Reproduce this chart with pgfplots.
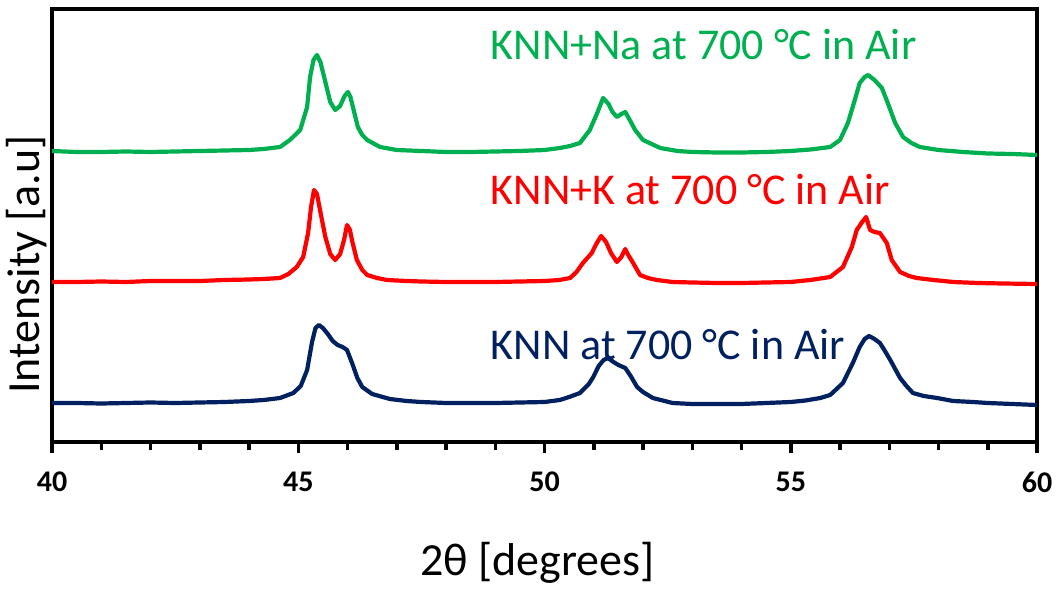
\documentclass[border=0pt]{standalone}
\usepackage{fontspec}
\setmainfont{Carlito}
\usepackage{pgfplots}
\pgfplotsset{compat=1.18}
\definecolor{xgreen}{RGB}{0,176,80}
\definecolor{xred}{RGB}{255,0,0}
\definecolor{xblue}{RGB}{0,32,96}
\begin{document}
\begin{tikzpicture}
\begin{axis}[name=ax, at={(0,0)}, anchor=south west, scale only axis,
    width=492.5pt, height=216.5pt,
    xmin=40, xmax=60, ymin=0, ymax=433,
    ytick=\empty, xtick={40,45,...,60}, xticklabels={40,45,50,55,60},
    minor x tick num=4, xtick pos=left, xtick align=outside,
    major tick length=5.5pt, minor tick length=4pt,
    every tick/.style={black, line width=1.75pt},
    axis line style={line width=2pt},
    xticklabel style={font=\bfseries\fontsize{15}{15}\selectfont, yshift=-6pt},
    xlabel={2θ [degrees]}, ylabel={Intensity [a.u]},
    every axis x label/.style={at={(axis description cs:0.493,-0.309)}, anchor=base, font=\fontsize{23}{23}\selectfont},
    every axis y label/.style={at={(axis description cs:-0.026,0.41)}, rotate=90, anchor=center, font=\fontsize{23}{23}\selectfont},
    clip=false]
\addplot[xblue, line width=2.1pt, line join=round] coordinates {
(40,39) (40.5,39) (41,38.5) (41.5,39) (42,39.5) (42.5,39) (43,39.5) (43.5,40) (44,41) (44.3,42)
(44.63,44) (44.9,49) (45.05,56) (45.18,72) (45.28,100) (45.35,114) (45.42,117) (45.5,114) (45.6,108)
(45.7,101) (45.8,97) (45.9,95) (45.99,92) (46.1,78) (46.2,64) (46.3,55) (46.5,48) (46.86,43) (47.2,41)
(47.5,40) (48,39) (48.5,39) (49,39) (49.5,39.5) (50,40) (50.31,42) (50.5,45) (50.72,49) (50.9,58)
(50.99,65) (51.1,76) (51.2,82) (51.29,84) (51.4,80) (51.5,77) (51.64,74) (51.75,66) (51.88,55) (52,50)
(52.2,44) (52.6,39) (53,38) (53.5,38) (54,38) (54.5,39) (55,40) (55.3,41.5) (55.6,44) (55.8,47)
(56.06,59) (56.26,79) (56.4,95) (56.5,103) (56.59,106) (56.7,103) (56.81,99) (56.9,92) (57.02,82)
(57.12,73) (57.22,64) (57.35,56) (57.48,49) (57.7,46) (57.97,44) (58.3,41) (58.7,40) (59,39) (59.5,38) (60,37)};
\addplot[xred, line width=2.1pt, line join=round] coordinates {
(40,160) (40.5,160) (41,160.5) (41.5,160) (42,161) (42.5,161) (43,161) (43.5,162) (44,162.5) (44.3,163)
(44.63,164) (44.8,168) (44.97,175) (45.1,185) (45.2,209) (45.26,235) (45.32,252) (45.38,248) (45.45,230)
(45.55,205) (45.65,188) (45.75,182) (45.85,188) (45.93,202) (45.99,217) (46.05,212) (46.09,202) (46.19,182)
(46.3,172) (46.4,167) (46.6,164) (46.8,162) (47.2,161) (47.5,160.5) (48,160) (48.5,160) (49,160) (49.5,160.5)
(50,161) (50.3,162) (50.52,164) (50.65,170) (50.78,179) (50.96,189) (51.05,198) (51.15,206) (51.25,200)
(51.35,189) (51.47,180) (51.56,185) (51.64,193) (51.7,187) (51.8,179) (51.94,167) (52.1,164) (52.28,162)
(52.6,160) (53,159.5) (53.5,159) (54,159) (54.5,159.5) (55,160) (55.4,162) (55.8,165) (56.06,175) (56.24,195)
(56.34,212) (56.45,220) (56.53,225) (56.61,212) (56.7,210) (56.81,209) (56.95,199) (57.05,182) (57.22,170)
(57.4,166) (57.56,164) (57.9,162) (58.3,160) (58.8,159) (59.3,158.5) (60,158)};
\addplot[xgreen, line width=2.1pt, line join=round] coordinates {
(40,291) (40.5,290) (41,290) (41.5,290.5) (42,290) (42.5,290.5) (43,291) (43.5,291.5) (44,292) (44.3,293)
(44.63,295) (44.83,302) (45.04,312) (45.18,335) (45.24,365) (45.31,382) (45.38,387) (45.45,380) (45.55,360)
(45.65,340) (45.75,332) (45.85,336) (45.94,346) (46.01,350) (46.06,345) (46.11,335) (46.21,315) (46.3,307)
(46.4,302) (46.66,295) (47,292) (47.5,291) (48,290) (48.5,290) (49,290.5) (49.5,291) (50,292) (50.31,294)
(50.52,296) (50.72,299) (50.92,312) (51.07,329) (51.19,344) (51.3,338) (51.38,330) (51.47,325) (51.56,328)
(51.64,330) (51.72,323) (51.84,312) (52,302) (52.35,294) (52.7,291) (53,290) (53.5,289.5) (54,289.5) (54.5,290)
(55,291) (55.4,292.5) (55.8,295) (56,302) (56.16,319) (56.3,342) (56.4,359) (56.5,365) (56.57,367) (56.7,362)
(56.85,354) (56.97,339) (57.12,319) (57.28,305) (57.45,299) (57.62,295) (58,292) (58.5,290) (59,288.5)
(59.5,288) (60,287)};
\node[anchor=west, inner sep=0pt, text=xgreen, font=\fontsize{22}{22}\selectfont] at (axis cs:48.9,397) {KNN+Na at 700 °C in Air};
\node[anchor=west, inner sep=0pt, text=xred, font=\fontsize{22}{22}\selectfont] at (axis cs:48.9,252) {KNN+K at 700 °C in Air};
\node[anchor=west, inner sep=0pt, text=xblue, font=\fontsize{22}{22}\selectfont] at (axis cs:48.9,97) {KNN at 700 °C in Air};
\end{axis}
\pgfresetboundingbox
\path[use as bounding box] (-26pt,-73pt) rectangle (503pt,221pt);
\end{tikzpicture}
\end{document}
